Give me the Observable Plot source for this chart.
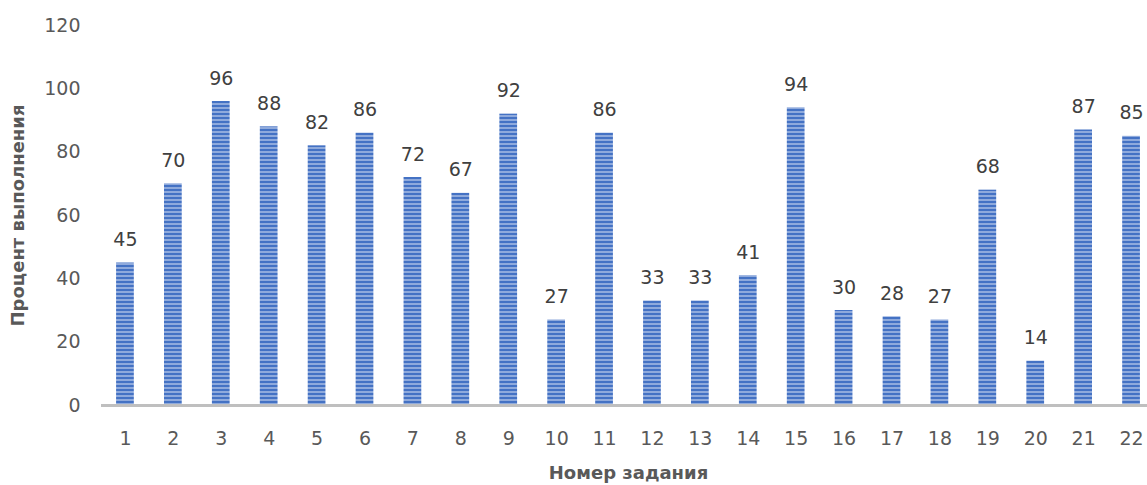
<!DOCTYPE html>
<html>
<head>
<meta charset="utf-8">
<script src="https://cdn.jsdelivr.net/npm/d3@7"></script>
<script src="https://cdn.jsdelivr.net/npm/@observablehq/plot@0.6"></script>
<style>
  html, body { margin: 0; padding: 0; background: #fff; overflow: hidden; }
</style>
</head>
<body>
<div id="chart"></div>
<script>
const tasks = ["1","2","3","4","5","6","7","8","9","10","11","12","13","14","15","16","17","18","19","20","21","22"];
const percents = [45, 70, 96, 88, 82, 86, 72, 67, 92, 27, 86, 33, 33, 41, 94, 30, 28, 27, 68, 14, 87, 85];
const yTicks = [0, 20, 40, 60, 80, 100, 120];
const xTitle = "Номер задания";
const yTitle = "Процент выполнения";

const data = tasks.map((t, i) => ({task: t, value: percents[i]}));

const font = "'DejaVu Sans', 'Liberation Sans', sans-serif";

const chart = Plot.plot({
  width: 1155,
  height: 485,
  marginLeft: 101,
  marginRight: 0,
  marginTop: 25,
  marginBottom: 80,
  style: {fontFamily: font, fontSize: "19px", color: "#595959", background: "#fff", overflow: "visible", maxWidth: "none"},
  x: {domain: tasks, paddingInner: 0.63, paddingOuter: 0.315, round: false, label: null},
  y: {domain: [0, 120], ticks: yTicks, label: null},
  marks: [
    Plot.barY(data, {x: "task", y: "value", fill: "url(#stripes)"}),
    Plot.ruleY([0], {stroke: "#BFBFBF", strokeWidth: 3}),
    Plot.text(data, {x: "task", y: "value", text: d => String(d.value), dy: -17, lineAnchor: "bottom", fill: "#404040", fontSize: 19}),
    Plot.axisY({ticks: yTicks, tickSize: 0, tickPadding: 21, fontSize: 19, fill: "#595959", label: null}),
    Plot.axisX({tickSize: 0, tickPadding: 26, fontSize: 19, fill: "#595959", label: null}),
    Plot.text([yTitle], {frameAnchor: "left", dx: -83, rotate: -90, textAnchor: "middle", fontWeight: "bold", fontSize: 18, fill: "#595959", lineAnchor: "middle"}),
    Plot.text([xTitle], {frameAnchor: "bottom", dy: 68, textAnchor: "middle", fontWeight: "bold", fontSize: 18, fill: "#595959", lineAnchor: "middle"})
  ]
});

const svg = chart.tagName.toLowerCase() === "svg" ? chart : chart.querySelector("svg");
const ns = "http://www.w3.org/2000/svg";
const defs = document.createElementNS(ns, "defs");
const pat = document.createElementNS(ns, "pattern");
pat.setAttribute("id", "stripes");
pat.setAttribute("patternUnits", "userSpaceOnUse");
pat.setAttribute("width", "8");
pat.setAttribute("height", "4");
pat.setAttribute("y", "405");
const r1 = document.createElementNS(ns, "rect");
r1.setAttribute("width", "8"); r1.setAttribute("height", "4"); r1.setAttribute("fill", "#8FAADC");
const r2 = document.createElementNS(ns, "rect");
r2.setAttribute("width", "8"); r2.setAttribute("height", "2"); r2.setAttribute("fill", "#4472C4");
pat.appendChild(r1); pat.appendChild(r2);
defs.appendChild(pat);
svg.insertBefore(defs, svg.firstChild);

document.getElementById("chart").appendChild(chart);
</script>
</body>
</html>
